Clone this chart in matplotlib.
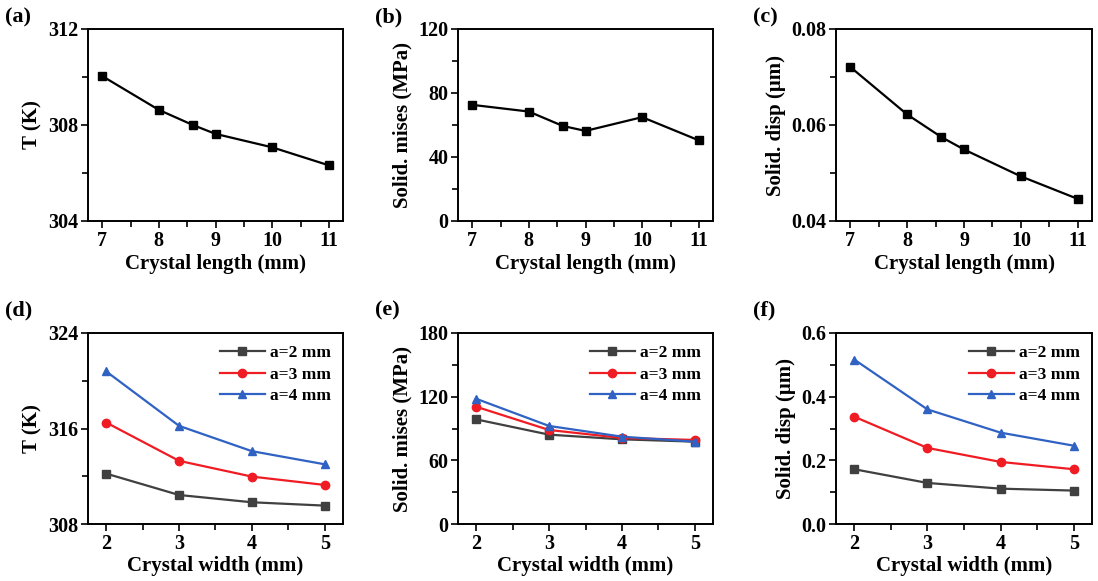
import numpy as np
import matplotlib
matplotlib.use('Agg')
import matplotlib.pyplot as plt
from matplotlib.ticker import MultipleLocator

# top row: crystal length sweep
length_mm = [7, 8, 8.6, 9, 10, 11]
temp_len = [310.04, 308.63, 308.0, 307.63, 307.07, 306.32]
mises_len = [72.6, 68.4, 59.4, 56.3, 64.9, 50.4]
disp_len = [0.0721, 0.0622, 0.0575, 0.0549, 0.0493, 0.0446]

# bottom row: crystal width sweep, one series per a
width_mm = [2, 3, 4, 5]
series_names = ['a=2 mm', 'a=3 mm', 'a=4 mm']
temp_w = [[312.22, 310.43, 309.82, 309.54],
          [316.5, 313.29, 311.97, 311.27],
          [320.78, 316.22, 314.1, 313.0]]
mises_w = [[98.6, 84.2, 79.8, 77.6],
           [110.5, 88.6, 81.1, 79.2],
           [118.0, 92.4, 82.3, 77.6]]
disp_w = [[0.172, 0.129, 0.111, 0.105],
          [0.337, 0.239, 0.195, 0.172],
          [0.5165, 0.36, 0.287, 0.246]]

plt.rcParams['font.family'] = 'Liberation Serif'
plt.rcParams['font.weight'] = 'bold'
plt.rcParams['axes.labelweight'] = 'bold'
plt.rcParams['axes.linewidth'] = 1.4

colors = ['#404040', '#f01c24', '#2f62c2']
markers = ['s', 'o', '^']

W, H = 1098, 581
fig = plt.figure(figsize=(W / 100, H / 100), dpi=100)

def addAxes(left, top, right, bottom):
    return fig.add_axes([left / W, 1 - bottom / H, (right - left) / W, (bottom - top) / H])

def styleAxes(ax, ylabel, xlabel, yticks, fmt):
    ax.set_ylabel(ylabel, fontsize=15, labelpad=4)
    ax.set_xlabel(xlabel, fontsize=15, labelpad=2)
    ax.set_yticks(yticks)
    ax.set_yticklabels([fmt.format(v) for v in yticks])
    ax.yaxis.set_minor_locator(MultipleLocator((yticks[1] - yticks[0]) / 2))
    ax.tick_params(which='both', direction='out', top=False, right=False,
                   labelsize=14.5, width=1.2, pad=2)
    ax.tick_params(which='major', length=5)
    ax.tick_params(which='minor', length=4)

lefts = [88, 458, 836]
rights = [343, 713, 1092]
tags = ['(a)', '(b)', '(c)', '(d)', '(e)', '(f)']
mu_label = 'Solid. disp (\u03bcm)'

# (a)-(c)
top_data = [(temp_len, 'T (K)', [304, 308, 312], '{:.0f}'),
            (mises_len, 'Solid. mises (MPa)', [0, 40, 80, 120], '{:.0f}'),
            (disp_len, mu_label, [0.04, 0.06, 0.08], '{:.2f}')]
for i, (vals, ylab, yt, fmt) in enumerate(top_data):
    ax = addAxes(lefts[i], 29, rights[i], 221)
    ax.plot(length_mm, vals, color='black', lw=1.6, marker='s', ms=6)
    ax.set_xlim(6.75, 11.25)
    ax.set_ylim(yt[0], yt[-1])
    ax.set_xticks([7, 8, 9, 10, 11])
    ax.xaxis.set_minor_locator(MultipleLocator(0.5))
    styleAxes(ax, ylab, 'Crystal length (mm)', yt, fmt)
    fig.text((lefts[i] - 83) / W, 1 - 17 / H, tags[i], fontsize=16, fontweight='bold', va='center')

# (d)-(f)
bot_data = [(temp_w, 'T (K)', [308, 316, 324], '{:.0f}'),
            (mises_w, 'Solid. mises (MPa)', [0, 60, 120, 180], '{:.0f}'),
            (disp_w, mu_label, [0.0, 0.2, 0.4, 0.6], '{:.1f}')]
for i, (rows, ylab, yt, fmt) in enumerate(bot_data):
    ax = addAxes(lefts[i], 333, rights[i], 524)
    for j, vals in enumerate(rows):
        ax.plot(width_mm, vals, color=colors[j], lw=1.6, marker=markers[j], ms=6,
                label=series_names[j])
    ax.set_xlim(1.75, 5.25)
    ax.set_ylim(yt[0], yt[-1])
    ax.set_xticks(width_mm)
    ax.xaxis.set_minor_locator(MultipleLocator(0.5))
    styleAxes(ax, ylab, 'Crystal width (mm)', yt, fmt)
    ax.legend(loc='upper right', frameon=False, fontsize=12.5, handlelength=2.6,
              handletextpad=0.3, labelspacing=0.3, borderaxespad=0.3)
    fig.text((lefts[i] - 83) / W, 1 - 310 / H, tags[i + 3], fontsize=16, fontweight='bold', va='center')

fig.savefig('out.png', dpi=100)
